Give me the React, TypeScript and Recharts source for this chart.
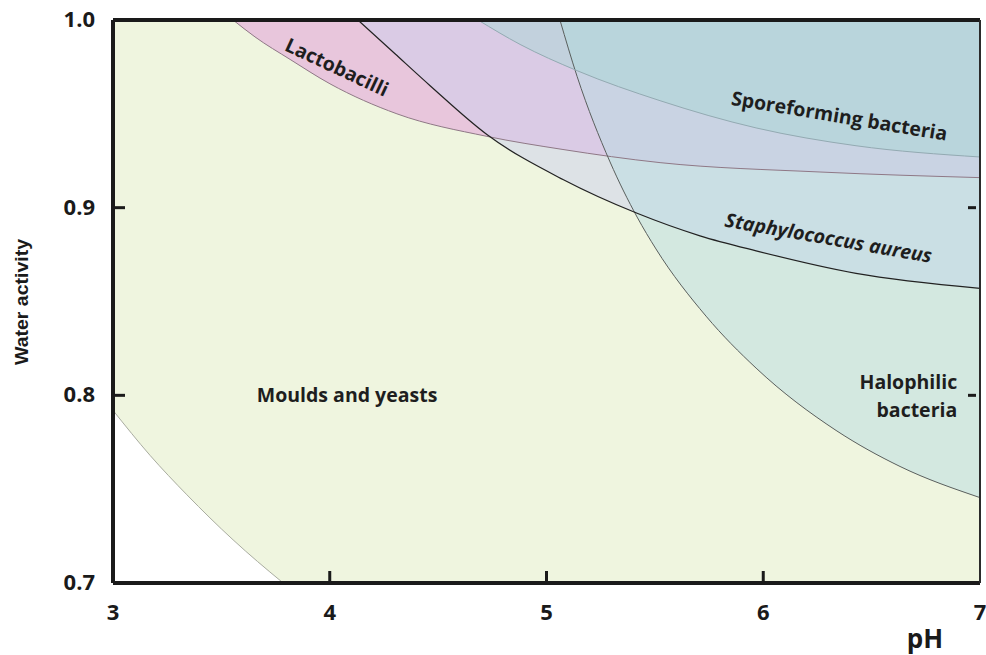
import {
  ComposedChart,
  Area,
  Line,
  XAxis,
  YAxis,
  ReferenceDot,
} from "recharts"

const PH_TICKS = [3, 4, 5, 6, 7]
const AW_TICKS = [0.7, 0.8, 0.9, 1.0]
const TOP = 1.0

// lower boundary of each growth region (pH, water activity)
const moulds = [
  { ph: 3.0, low: 0.792 },
  { ph: 3.171, low: 0.768 },
  { ph: 3.341, low: 0.747 },
  { ph: 3.554, low: 0.723 },
  { ph: 3.78, low: 0.7005 },
  { ph: 3.955, low: 0.6845 },
  { ph: 7.0, low: 0.6845 },
]
const lactobacilli = [
  { ph: 3.554, low: 1.0 },
  { ph: 3.655, low: 0.991 },
  { ph: 3.817, low: 0.979 },
  { ph: 4.001, low: 0.966 },
  { ph: 4.31, low: 0.950 },
  { ph: 4.725, low: 0.938 },
  { ph: 5.076, low: 0.931 },
  { ph: 5.524, low: 0.924 },
  { ph: 6.262, low: 0.919 },
  { ph: 7.0, low: 0.916 },
]
const staph = [
  { ph: 4.13, low: 1.0 },
  { ph: 4.301, low: 0.982 },
  { ph: 4.463, low: 0.965 },
  { ph: 4.725, low: 0.939 },
  { ph: 5.076, low: 0.915 },
  { ph: 5.418, low: 0.897 },
  { ph: 5.708, low: 0.885 },
  { ph: 5.967, low: 0.877 },
  { ph: 6.428, low: 0.865 },
  { ph: 7.0, low: 0.857 },
]
const halophilic = [
  { ph: 5.062, low: 1.0 },
  { ph: 5.141, low: 0.970 },
  { ph: 5.293, low: 0.9244 },
  { ph: 5.418, low: 0.895 },
  { ph: 5.505, low: 0.878 },
  { ph: 5.736, low: 0.8422 },
  { ph: 5.967, low: 0.8145 },
  { ph: 6.336, low: 0.7813 },
  { ph: 6.631, low: 0.7621 },
  { ph: 7.0, low: 0.7455 },
]
const sporeforming = [
  { ph: 4.684, low: 1.0 },
  { ph: 4.878, low: 0.987 },
  { ph: 5.141, low: 0.973 },
  { ph: 5.524, low: 0.957 },
  { ph: 5.967, low: 0.9425 },
  { ph: 6.428, low: 0.933 },
  { ph: 7.0, low: 0.927 },
]

const FONT = "'Open Sans', 'Liberation Sans', sans-serif"
const INK = "#1a1a1a"

const range = (d: { low: number }) => [d.low, TOP]

// inner tick marks, placed through the chart scales
const innerAw = AW_TICKS.filter((v) => v > 0.7 && v < 1.0)
const innerPh = PH_TICKS.filter((v) => v > 3 && v < 7)
const marks = [
  ...innerAw.map((aw) => ({ ph: 3, aw, side: "left" })),
  ...innerAw.map((aw) => ({ ph: 7, aw, side: "right" })),
  ...innerPh.map((ph) => ({ ph, aw: 0.7, side: "bottom" })),
]

function XTick({ x, y, payload }: any) {
  return (
    <text x={x} y={y + 31} textAnchor="middle" dominantBaseline="middle"
      fontFamily={FONT} fontWeight={700} fontSize={22} fill={INK}>{payload.value}</text>
  )
}

function YTick({ x, y, payload }: any) {
  return (
    <text x={x - 18} y={y + 1} textAnchor="end" dominantBaseline="middle"
      fontFamily={FONT} fontWeight={700} fontSize={22} fill={INK}>{payload.value.toFixed(1)}</text>
  )
}

function markLabel(side: string) {
  return (p: any) => {
    const vb = p.viewBox || {}
    const cx = vb.x + (vb.width || 0) / 2
    const cy = vb.y + (vb.height || 0) / 2
    if (side === "left") return <line x1={cx} x2={cx + 12} y1={cy} y2={cy} stroke={INK} strokeWidth={3} />
    if (side === "right") return <line x1={cx - 12} x2={cx - 4} y1={cy} y2={cy} stroke={INK} strokeWidth={3} />
    return <line x1={cx} x2={cx} y1={cy} y2={cy - 12} stroke={INK} strokeWidth={3} />
  }
}

function regionLabel(text: string, angle: number, italic = false, anchor = "middle") {
  return (p: any) => {
    const vb = p.viewBox || {}
    const cx = vb.x + (vb.width || 0) / 2
    const cy = vb.y + (vb.height || 0) / 2
    return (
      <text x={cx} y={cy} textAnchor={anchor} dominantBaseline="middle"
        transform={`rotate(${angle} ${cx} ${cy})`}
        fontFamily={FONT} fontWeight={700} fontSize={19.5}
        fontStyle={italic ? "italic" : "normal"} fill="#1e1e1e">{text}</text>
    )
  }
}

export default function App() {
  return (
    <div style={{ width: 986, height: 655, background: "#fff" }}>
      <style>{"body{margin:0}"}</style>
      <ComposedChart width={986} height={655} margin={{ top: 19, right: 5, bottom: 0, left: 0 }}>
        <XAxis dataKey="ph" type="number" domain={[3, 7]} ticks={PH_TICKS} allowDataOverflow
          height={72} tickSize={0} tickMargin={0} tick={XTick}
          axisLine={{ stroke: INK, strokeWidth: 4 }}
          label={(p: any) => {
            const vb = p.viewBox
            return (
              <text x={vb.x + vb.width - 55} y={vb.y + 58} textAnchor="middle" dominantBaseline="middle"
                fontFamily={FONT} fontWeight={700} fontSize={26} fill={INK}>pH</text>
            )
          }} />
        <XAxis xAxisId="top" orientation="top" dataKey="ph" type="number" domain={[3, 7]}
          height={1} tick={false} tickLine={false}
          axisLine={{ stroke: INK, strokeWidth: 4 }} />
        <YAxis dataKey="aw" type="number" domain={[0.7, 1.0]} ticks={AW_TICKS} allowDataOverflow
          width={113} tickSize={0} tickMargin={0} tick={YTick}
          axisLine={{ stroke: INK, strokeWidth: 4 }}
          label={() => {
            const cx = 23
            const cy = 302
            return (
              <text x={cx} y={cy} textAnchor="middle" dominantBaseline="middle"
                transform={`rotate(-90 ${cx} ${cy})`} textLength={126} lengthAdjust="spacingAndGlyphs"
                fontFamily="'Liberation Sans Narrow', 'Liberation Sans', sans-serif" fontWeight={700}
                fontSize={18} fill={INK}>Water activity</text>
            )
          }} />
        <YAxis yAxisId="right" orientation="right" type="number" domain={[0.7, 1.0]} ticks={AW_TICKS}
          width={1} tick={false} tickLine={false}
          axisLine={{ stroke: "#2a2a2a", strokeWidth: 2 }} />

        <Area data={moulds} dataKey={range} type="monotone" fill="#eff5df" fillOpacity={1}
          stroke="none" isAnimationActive={false} />
        <Line data={moulds} dataKey="low" type="monotone" stroke="#a9aca0" strokeWidth={1}
          dot={false} activeDot={false} isAnimationActive={false} />

        <Area data={lactobacilli} dataKey={range} type="monotone" fill="#e197d9" fillOpacity={0.5}
          stroke="none" isAnimationActive={false} />
        <Line data={lactobacilli} dataKey="low" type="monotone" stroke="#8f7886" strokeWidth={1}
          dot={false} activeDot={false} isAnimationActive={false} />

        <Area data={staph} dataKey={range} type="monotone" fill="#cbcfed" fillOpacity={0.5}
          stroke="none" isAnimationActive={false} />

        <Area data={halophilic} dataKey={range} type="monotone" fill="#b7dbe1" fillOpacity={0.5}
          stroke="none" isAnimationActive={false} />
        <Line data={halophilic} dataKey="low" type="monotone" stroke="#5a5f5d" strokeWidth={1}
          dot={false} activeDot={false} isAnimationActive={false} />

        <Area data={sporeforming} dataKey={range} type="monotone" fill="#aad8d6" fillOpacity={0.5}
          stroke="none" isAnimationActive={false} />
        <Line data={sporeforming} dataKey="low" type="monotone" stroke="#93aab2" strokeWidth={1}
          dot={false} activeDot={false} isAnimationActive={false} />

        <Line data={staph} dataKey="low" type="monotone" stroke="#222" strokeWidth={1.2}
          dot={false} activeDot={false} isAnimationActive={false} />

        <ReferenceDot x={4.03} y={0.974} r={0} fill="none" stroke="none"
          label={regionLabel("Lactobacilli", 25)} />
        <ReferenceDot x={6.35} y={0.948} r={0} fill="none" stroke="none"
          label={regionLabel("Sporeforming bacteria", 9.5)} />
        <ReferenceDot x={6.3} y={0.883} r={0} fill="none" stroke="none"
          label={regionLabel("Staphylococcus aureus", 10, true)} />
        <ReferenceDot x={6.895} y={0.806} r={0} fill="none" stroke="none"
          label={regionLabel("Halophilic", 0, false, "end")} />
        <ReferenceDot x={6.895} y={0.791} r={0} fill="none" stroke="none"
          label={regionLabel("bacteria", 0, false, "end")} />
        <ReferenceDot x={4.08} y={0.799} r={0} fill="none" stroke="none"
          label={regionLabel("Moulds and yeasts", 0)} />

        {marks.map((m) => (
          <ReferenceDot key={`${m.side}-${m.ph}-${m.aw}`} x={m.ph} y={m.aw} r={0}
            fill="none" stroke="none" ifOverflow="visible" label={markLabel(m.side)} />
        ))}
      </ComposedChart>
    </div>
  )
}
